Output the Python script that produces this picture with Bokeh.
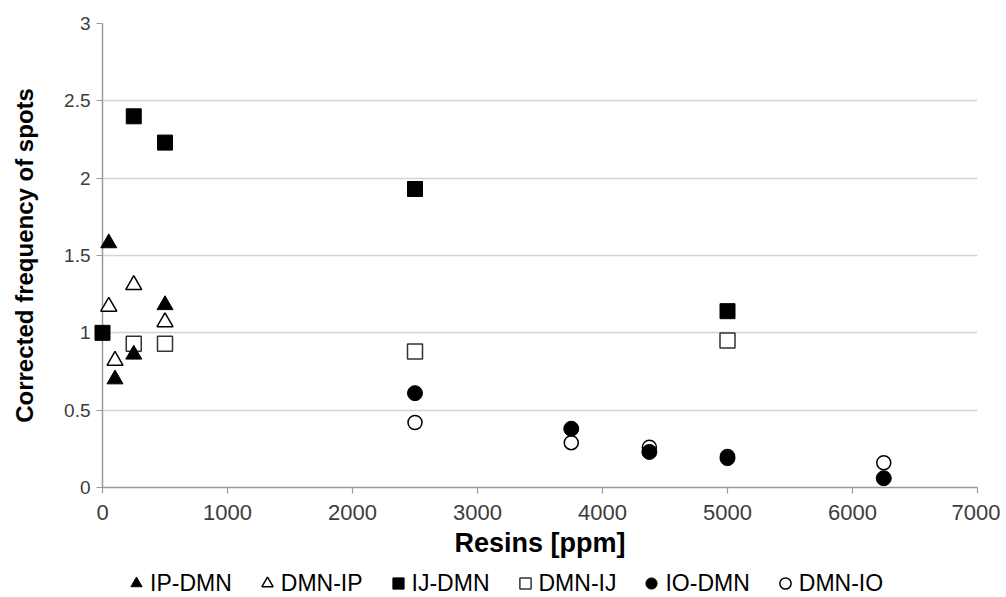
from bokeh.plotting import figure
from bokeh.layouts import column
from bokeh.models import Legend, LegendItem, Range1d, FixedTicker
from bokeh.embed import file_html
from bokeh.resources import INLINE

# ---- data ----
ip_dmn_x = [50, 100, 250, 500]
ip_dmn_y = [1.58, 0.70, 0.86, 1.18]
dmn_ip_x = [50, 100, 250, 500]
dmn_ip_y = [1.17, 0.82, 1.31, 1.07]
ij_dmn_x = [0, 250, 500, 2500, 5000]
ij_dmn_y = [1.00, 2.40, 2.23, 1.93, 1.14]
dmn_ij_x = [250, 500, 2500, 5000]
dmn_ij_y = [0.93, 0.93, 0.88, 0.95]
io_dmn_x = [2500, 3750, 4375, 5000, 6250]
io_dmn_y = [0.61, 0.38, 0.23, 0.19, 0.06]
dmn_io_x = [2500, 3750, 4375, 5000, 6250]
dmn_io_y = [0.42, 0.29, 0.26, 0.20, 0.16]

series_names = ["IP-DMN", "DMN-IP", "IJ-DMN", "DMN-IJ", "IO-DMN", "DMN-IO"]

x_ticks = [0, 1000, 2000, 3000, 4000, 5000, 6000, 7000]
x_tick_labels = ["0", "1000", "2000", "3000", "4000", "5000", "6000", "7000"]
y_ticks = [0, 0.5, 1, 1.5, 2, 2.5, 3]
y_tick_labels = ["0", "0.5", "1", "1.5", "2", "2.5", "3"]

x_title = "Resins [ppm]"
y_title = "Corrected frequency of spots"

FONT = "Liberation Sans"

# marker styles per series (marker, size, fill, line, line width)
styles = [
    ("triangle", 16, "black", "black", 1.0),
    ("triangle", 16, "white", "black", 1.5),
    ("square", 15, "black", "black", 1.0),
    ("square", 15, "white", "#333333", 1.5),
    ("circle", 15, "black", "black", 1.0),
    ("circle", 14, "white", "black", 1.5),
]
series = [(ip_dmn_x, ip_dmn_y), (dmn_ip_x, dmn_ip_y), (ij_dmn_x, ij_dmn_y),
          (dmn_ij_x, dmn_ij_y), (io_dmn_x, io_dmn_y), (dmn_io_x, dmn_io_y)]
# painting order (later = on top), as overlaps appear in the reference
draw_order = [3, 2, 5, 4, 1, 0]

W = 1000
p = figure(width=W, height=568, output_backend="svg", toolbar_location=None,
           x_range=Range1d(0, 7000), y_range=Range1d(0, 3),
           min_border_left=102, min_border_right=23, min_border_top=23,
           min_border_bottom=81)
p.outline_line_color = None
p.background_fill_color = "white"
p.border_fill_color = "white"

# grid
p.xgrid.grid_line_color = None
p.ygrid.ticker = FixedTicker(ticks=y_ticks)
p.ygrid.grid_line_color = "#d4d4d4"
p.ygrid.grid_line_width = 1.5

# axes
for ax in (p.xaxis[0], p.yaxis[0]):
    ax.axis_line_color = "#9a9a9a"
    ax.axis_line_width = 1.5
    ax.major_tick_line_color = "#9a9a9a"
    ax.major_tick_line_width = 1.2
    ax.minor_tick_line_color = None
    ax.major_tick_in = 0
    ax.major_tick_out = 6
    ax.major_label_text_font = FONT
    ax.major_label_text_color = "#3c3c3c"
    ax.axis_label_text_font = FONT
    ax.axis_label_text_font_style = "bold"
    ax.axis_label_text_color = "black"

p.xaxis.ticker = FixedTicker(ticks=x_ticks)
p.xaxis.major_label_overrides = dict(zip(x_ticks, x_tick_labels))
p.yaxis.ticker = FixedTicker(ticks=y_ticks)
p.yaxis.major_label_overrides = dict(zip(y_ticks, y_tick_labels))
p.xaxis.axis_label = x_title
p.yaxis.axis_label = y_title
p.xaxis.major_label_text_font_size = "22px"
p.yaxis.major_label_text_font_size = "19px"
p.xaxis.axis_label_text_font_size = "27px"
p.yaxis.axis_label_text_font_size = "24px"
p.xaxis.major_label_standoff = 11
p.yaxis.major_label_standoff = 6
p.xaxis.axis_label_standoff = 5
p.yaxis.axis_label_standoff = 23

for i in draw_order:
    xs, ys = series[i]
    mk, sz, fc, lc, lw = styles[i]
    r = p.scatter(xs, ys, marker=mk, size=sz, fill_color=fc, line_color=lc, line_width=lw)
    r.level = "overlay"

# ---- legend strip (separate figure below the chart) ----
lg = figure(width=W, height=29, output_backend="svg", toolbar_location=None,
            x_range=Range1d(0, 1), y_range=Range1d(0, 1),
            min_border_left=0, min_border_right=0, min_border_top=0, min_border_bottom=0)
lg.axis.visible = False
lg.grid.visible = False
lg.outline_line_color = None
lg.border_fill_color = "white"

items = []
for name, (mk, sz, fc, lc, lw) in zip(series_names, styles):
    rr = lg.scatter([-5], [-5], marker=mk, size=sz, fill_color=fc, line_color=lc, line_width=lw)
    items.append(LegendItem(label=name, renderers=[rr]))

legend = Legend(items=items, orientation="horizontal", location=(20, 0))
legend.label_text_font = FONT
legend.label_text_font_size = "23px"
legend.label_text_color = "black"
legend.border_line_color = None
legend.background_fill_alpha = 0
legend.glyph_width = 28
legend.glyph_height = 28
legend.label_standoff = 0
legend.spacing = 21
legend.padding = 0
legend.margin = 0
lg.add_layout(legend, "center")

layout = column(p, lg, spacing=0)
open("out.html", "w").write(file_html(layout, INLINE))
